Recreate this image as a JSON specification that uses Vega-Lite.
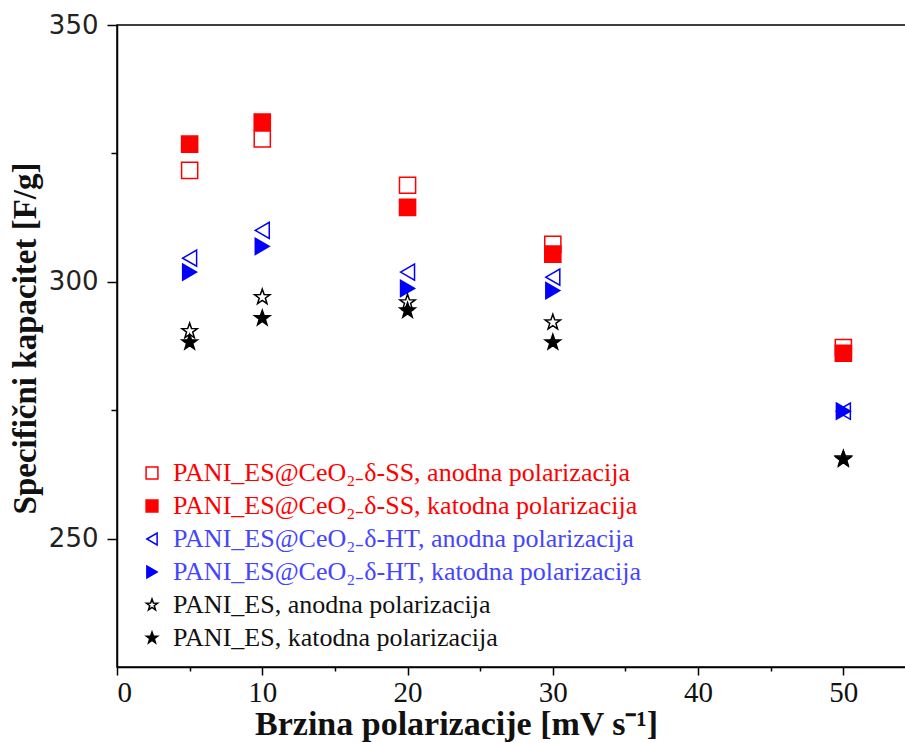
{
  "$schema": "https://vega.github.io/schema/vega-lite/v6.json",
  "autosize": "none",
  "padding": {"left": 117, "top": 25, "right": 0, "bottom": 76},
  "width": 799,
  "height": 642,
  "background": "white",
  "config": {
    "view": {"stroke": "black", "strokeWidth": 1.5},
    "axis": {"grid": false, "domainColor": "black", "domainWidth": 1.5, "tickColor": "black", "tickWidth": 1.5}
  },
  "data": {
    "values": [
      {"brzina": 5, "kapacitet": 321.7, "serija": "PANI_ES@CeO₂₋δ-SS, anodna polarizacija"},
      {"brzina": 10, "kapacitet": 327.8, "serija": "PANI_ES@CeO₂₋δ-SS, anodna polarizacija"},
      {"brzina": 20, "kapacitet": 318.8, "serija": "PANI_ES@CeO₂₋δ-SS, anodna polarizacija"},
      {"brzina": 30, "kapacitet": 307.3, "serija": "PANI_ES@CeO₂₋δ-SS, anodna polarizacija"},
      {"brzina": 50, "kapacitet": 287.2, "serija": "PANI_ES@CeO₂₋δ-SS, anodna polarizacija"},
      {"brzina": 5, "kapacitet": 326.8, "serija": "PANI_ES@CeO₂₋δ-SS, katodna polarizacija"},
      {"brzina": 10, "kapacitet": 331.1, "serija": "PANI_ES@CeO₂₋δ-SS, katodna polarizacija"},
      {"brzina": 20, "kapacitet": 314.5, "serija": "PANI_ES@CeO₂₋δ-SS, katodna polarizacija"},
      {"brzina": 30, "kapacitet": 305.4, "serija": "PANI_ES@CeO₂₋δ-SS, katodna polarizacija"},
      {"brzina": 50, "kapacitet": 286.1, "serija": "PANI_ES@CeO₂₋δ-SS, katodna polarizacija"},
      {"brzina": 5, "kapacitet": 304.6, "serija": "PANI_ES@CeO₂₋δ-HT, anodna polarizacija"},
      {"brzina": 10, "kapacitet": 310.0, "serija": "PANI_ES@CeO₂₋δ-HT, anodna polarizacija"},
      {"brzina": 20, "kapacitet": 301.9, "serija": "PANI_ES@CeO₂₋δ-HT, anodna polarizacija"},
      {"brzina": 30, "kapacitet": 300.9, "serija": "PANI_ES@CeO₂₋δ-HT, anodna polarizacija"},
      {"brzina": 50, "kapacitet": 274.8, "serija": "PANI_ES@CeO₂₋δ-HT, anodna polarizacija"},
      {"brzina": 5, "kapacitet": 301.9, "serija": "PANI_ES@CeO₂₋δ-HT, katodna polarizacija"},
      {"brzina": 10, "kapacitet": 306.9, "serija": "PANI_ES@CeO₂₋δ-HT, katodna polarizacija"},
      {"brzina": 20, "kapacitet": 298.7, "serija": "PANI_ES@CeO₂₋δ-HT, katodna polarizacija"},
      {"brzina": 30, "kapacitet": 298.3, "serija": "PANI_ES@CeO₂₋δ-HT, katodna polarizacija"},
      {"brzina": 50, "kapacitet": 274.8, "serija": "PANI_ES@CeO₂₋δ-HT, katodna polarizacija"},
      {"brzina": 5, "kapacitet": 290.4, "serija": "PANI_ES, anodna polarizacija"},
      {"brzina": 10, "kapacitet": 297.0, "serija": "PANI_ES, anodna polarizacija"},
      {"brzina": 20, "kapacitet": 296.0, "serija": "PANI_ES, anodna polarizacija"},
      {"brzina": 30, "kapacitet": 292.1, "serija": "PANI_ES, anodna polarizacija"},
      {"brzina": 50, "kapacitet": 265.6, "serija": "PANI_ES, anodna polarizacija"},
      {"brzina": 5, "kapacitet": 288.2, "serija": "PANI_ES, katodna polarizacija"},
      {"brzina": 10, "kapacitet": 292.9, "serija": "PANI_ES, katodna polarizacija"},
      {"brzina": 20, "kapacitet": 294.4, "serija": "PANI_ES, katodna polarizacija"},
      {"brzina": 30, "kapacitet": 288.2, "serija": "PANI_ES, katodna polarizacija"},
      {"brzina": 50, "kapacitet": 265.4, "serija": "PANI_ES, katodna polarizacija"}
    ]
  },
  "mark": {"type": "point", "filled": true, "opacity": 1, "strokeWidth": 1.5, "size": 260},
  "encoding": {
    "x": {
      "field": "brzina", "type": "quantitative",
      "scale": {"domain": [0, 55], "nice": false, "zero": false},
      "axis": {
        "values": [0, 5, 10, 15, 20, 25, 30, 35, 40, 45, 50],
        "labelExpr": "datum.value % 10 === 0 ? datum.label : ''",
        "tickSize": {"condition": {"test": "datum.value % 10 === 0", "value": 8}, "value": 4},
        "labelFont": "Liberation Serif", "labelFontSize": 29, "labelColor": "#111111", "labelPadding": 3,
        "title": "Brzina polarizacije [mV s⁻¹]",
        "titleFont": "Liberation Serif", "titleFontSize": 34, "titleFontWeight": "bold", "titleColor": "#111111",
        "titleX": 339, "titleY": 67, "titleBaseline": "alphabetic", "titleAnchor": "middle", "titleAlign": "center"
      }
    },
    "y": {
      "field": "kapacitet", "type": "quantitative",
      "scale": {"domain": [225, 350], "nice": false, "zero": false},
      "axis": {
        "values": [250, 275, 300, 325, 350],
        "labelExpr": "datum.value % 50 === 0 ? datum.label : ''",
        "tickSize": {"condition": {"test": "datum.value % 50 === 0", "value": 10}, "value": 6},
        "labelFont": "DejaVu Sans", "labelFontSize": 26, "labelColor": "#222222", "labelPadding": 9,
        "title": "Specifični kapacitet [F/g]",
        "titleFont": "Liberation Serif", "titleFontSize": 33, "titleFontWeight": "bold", "titleColor": "#111111",
        "titleX": -92, "titleY": 313, "titleAngle": -90, "titleBaseline": "middle", "titleAlign": "center"
      }
    },
    "shape": {
      "field": "serija", "type": "nominal",
      "scale": {
        "domain": ["PANI_ES@CeO₂₋δ-SS, anodna polarizacija", "PANI_ES@CeO₂₋δ-SS, katodna polarizacija", "PANI_ES@CeO₂₋δ-HT, anodna polarizacija", "PANI_ES@CeO₂₋δ-HT, katodna polarizacija", "PANI_ES, anodna polarizacija", "PANI_ES, katodna polarizacija"],
        "range": ["square", "square", "triangle-left", "triangle-right", "M0,-1L0.235,-0.324L0.951,-0.309L0.380,0.124L0.588,0.809L0,0.4L-0.588,0.809L-0.380,0.124L-0.951,-0.309L-0.235,-0.324Z", "M0,-1L0.235,-0.324L0.951,-0.309L0.380,0.124L0.588,0.809L0,0.4L-0.588,0.809L-0.380,0.124L-0.951,-0.309L-0.235,-0.324Z"]
      },
      "legend": {
        "orient": "none", "legendX": 22, "legendY": 435, "title": null,
        "labelFont": "Liberation Serif", "labelFontSize": 26, "labelLimit": 700,
        "symbolSize": 140, "symbolStrokeWidth": 1.5, "symbolOpacity": 1, "rowPadding": 7, "labelOffset": 8,
        "labelColor": {"expr": "indexof(datum.label, 'SS') >= 0 ? '#ff0000' : (indexof(datum.label, 'HT') >= 0 ? '#4545ff' : '#111111')"}
      }
    },
    "stroke": {
      "field": "serija", "type": "nominal",
      "scale": {
        "domain": ["PANI_ES@CeO₂₋δ-SS, anodna polarizacija", "PANI_ES@CeO₂₋δ-SS, katodna polarizacija", "PANI_ES@CeO₂₋δ-HT, anodna polarizacija", "PANI_ES@CeO₂₋δ-HT, katodna polarizacija", "PANI_ES, anodna polarizacija", "PANI_ES, katodna polarizacija"],
        "range": ["#ff0000", "#ff0000", "#0000ff", "#0000ff", "#000000", "#000000"]
      }
    },
    "fill": {
      "field": "serija", "type": "nominal",
      "scale": {
        "domain": ["PANI_ES@CeO₂₋δ-SS, anodna polarizacija", "PANI_ES@CeO₂₋δ-SS, katodna polarizacija", "PANI_ES@CeO₂₋δ-HT, anodna polarizacija", "PANI_ES@CeO₂₋δ-HT, katodna polarizacija", "PANI_ES, anodna polarizacija", "PANI_ES, katodna polarizacija"],
        "range": ["#ffffff", "#ff0000", "#ffffff", "#0000ff", "#ffffff", "#000000"]
      }
    }
  }
}
